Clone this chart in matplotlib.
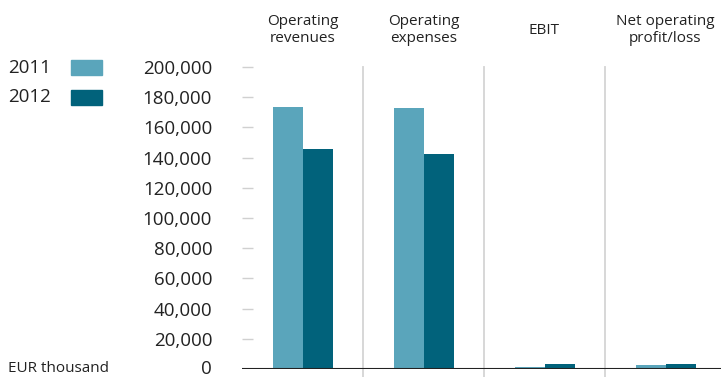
import numpy as np
import matplotlib.pyplot as plt
import matplotlib.transforms as mtransforms

plt.rcParams['font.family'] = ['Open Sans', 'DejaVu Sans']

categories = ['Operating\nrevenues', 'Operating\nexpenses', 'EBIT', 'Net operating\nprofit/loss']
years = ['2011', '2012']
values_2011 = [173500, 172800, 1100, 2600]
values_2012 = [145700, 142400, 3300, 3300]
y_ticks = list(range(0, 200001, 20000))

col_2011 = '#5aa5bb'
col_2012 = '#01627b'

fig = plt.figure(figsize=(7.21, 3.77), dpi=100)
W, H = 721, 377
ax = fig.add_axes([242 / W, (H - 369) / H, (W - 242) / W, 302 / H])

x = np.arange(len(categories))
bw = 30 / 121
ax.bar(x - bw / 2, values_2011, width=bw, color=col_2011, zorder=3)
ax.bar(x + bw / 2, values_2012, width=bw, color=col_2012, zorder=3)

ax.set_xlim(-0.5, -0.5 + (W - 242) / 121)
ax.set_ylim(0, 200000)

# group separators
for sep in x[1:] - 0.5:
    ax.plot([sep, sep], [-0.025, 1.0], transform=ax.get_xaxis_transform(),
            color='#d4d4d4', linewidth=1.3, clip_on=False, zorder=1)
ax.axhline(0, color='#222222', linewidth=1.5, zorder=4)

for s in ax.spines.values():
    s.set_visible(False)

ax.set_xticks([])
ax.set_yticks(y_ticks)
ax.set_yticklabels([f'{v:,}' for v in y_ticks], fontsize=13.5, color='#222222')
ax.tick_params(axis='y', direction='in', length=8, width=1, color='#d0d0d0', pad=21.5)
for t in ax.get_yticklines()[:2]:
    t.set_visible(False)

# nudge the zero label up a touch so it stays inside the figure
zero_lab = ax.get_yticklabels()[0]
zero_lab.set_transform(zero_lab.get_transform() +
                       mtransforms.ScaledTranslation(0, 2 / 100, fig.dpi_scale_trans))

for i, c in enumerate(categories):
    fig.text((242 + 60.5 + 121 * i) / W, 1 - 30 / H, c, ha='center', va='center',
             fontsize=11, color='#222222', linespacing=1.15)

# legend at upper left
fig.text(8 / W, 1 - 68 / H, years[0], ha='left', va='center', fontsize=13.5, color='#222222')
fig.text(8 / W, 1 - 97 / H, years[1], ha='left', va='center', fontsize=13.5, color='#222222')
fig.patches.append(plt.Rectangle((71 / W, 1 - 75 / H), 31 / W, 15 / H, color=col_2011,
                                 transform=fig.transFigure, figure=fig))
fig.patches.append(plt.Rectangle((71 / W, 1 - 105 / H), 31 / W, 15 / H, color=col_2012,
                                 transform=fig.transFigure, figure=fig))

fig.text(8 / W, 1 - 368 / H, 'EUR thousand', ha='left', va='center', fontsize=11, color='#222222')

plt.savefig('out.png', dpi=100)
